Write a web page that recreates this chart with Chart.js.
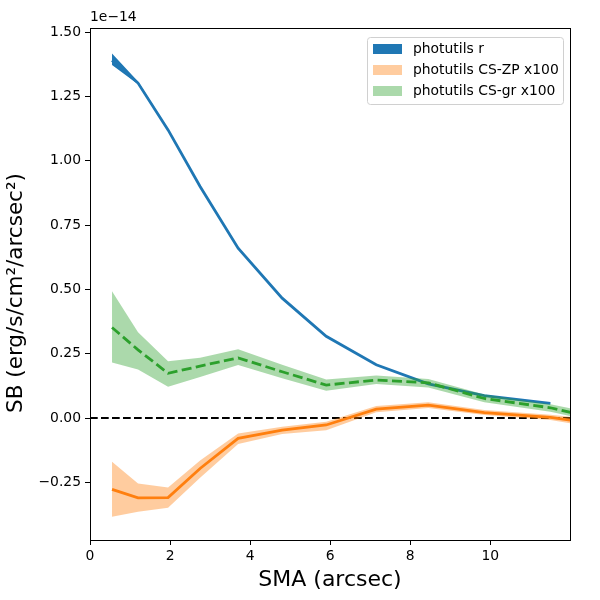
<!DOCTYPE html>
<html>
<head>
<meta charset="utf-8">
<script src="https://cdn.jsdelivr.net/npm/chart.js@4"></script>
<style>
  html, body { margin: 0; padding: 0; background: #fff; }
  #wrap { width: 600px; height: 600px; }
</style>
</head>
<body>
<div id="wrap"><canvas id="chart" width="600" height="600"></canvas></div>
<script>
// SMA positions (arcsec)
const sma = [0.55, 1.2, 1.95, 2.75, 3.7, 4.8, 5.9, 7.15, 8.45, 9.85, 11.5, 12.0];

// photutils r (units of 1e-14)
const rMid = [1.39, 1.302, 1.12, 0.90, 0.66, 0.466, 0.318, 0.207, 0.133, 0.087, 0.057];
const rLo  = [1.372, 1.297, 1.117, 0.898, 0.658, 0.464, 0.317, 0.206, 0.132, 0.086, 0.056];
const rHi  = [1.417, 1.308, 1.124, 0.903, 0.662, 0.468, 0.320, 0.208, 0.134, 0.088, 0.058];

// photutils CS-ZP x100
const zpMid = [-0.277, -0.310, -0.309, -0.196, -0.079, -0.047, -0.027, 0.035, 0.050, 0.021, 0.003, -0.008];
const zpLo  = [-0.384, -0.364, -0.349, -0.232, -0.101, -0.062, -0.047, 0.023, 0.039, 0.012, -0.008, -0.020];
const zpHi  = [-0.170, -0.254, -0.270, -0.165, -0.060, -0.034, -0.014, 0.047, 0.061, 0.031, 0.013, 0.005];

// photutils CS-gr x100
const grMid = [0.352, 0.265, 0.174, 0.202, 0.234, 0.180, 0.128, 0.148, 0.137, 0.076, 0.040, 0.022];
const grLo  = [0.216, 0.189, 0.122, 0.160, 0.206, 0.155, 0.106, 0.132, 0.119, 0.061, 0.024, 0.008];
const grHi  = [0.493, 0.333, 0.221, 0.234, 0.267, 0.207, 0.150, 0.165, 0.152, 0.092, 0.054, 0.038];

const xTicks = [0, 2, 4, 6, 8, 10];
const yTicks = [-0.25, 0, 0.25, 0.5, 0.75, 1.0, 1.25, 1.5];
const zeroLine = 0;

const legendItems = [
  { label: 'photutils r', color: '#1f77b4' },
  { label: 'photutils CS-ZP x100', color: 'rgba(255,127,14,0.4)' },
  { label: 'photutils CS-gr x100', color: 'rgba(44,160,44,0.4)' }
];

const FONT = "'DejaVu Sans', sans-serif";

function pts(ys) {
  return ys.map((y, i) => ({ x: sma[i], y: y }));
}

function band(lo, hi, fillColor, order) {
  return [
    { data: pts(lo), borderWidth: 0, pointRadius: 0, fill: false, order: order },
    { data: pts(hi), borderWidth: 0, pointRadius: 0, fill: '-1', backgroundColor: fillColor, order: order }
  ];
}

// spines, zero line, titles, offset text, legend
const extras = {
  id: 'extras',
  beforeDatasetsDraw(chart) {
    const { ctx, chartArea: a, scales } = chart;
    const y0 = scales.y.getPixelForValue(zeroLine);
    ctx.save();
    ctx.strokeStyle = '#000';
    ctx.lineWidth = 2;
    ctx.setLineDash([7.7, 3.3]);
    ctx.beginPath();
    ctx.moveTo(a.left, y0);
    ctx.lineTo(a.right, y0);
    ctx.stroke();
    ctx.restore();
  },
  afterDraw(chart) {
    const { ctx, chartArea: a } = chart;
    ctx.save();
    ctx.strokeStyle = '#000';
    ctx.lineWidth = 1;
    ctx.strokeRect(a.left + 0.5, a.top + 0.5, a.right - a.left, a.bottom - a.top);

    ctx.fillStyle = '#000';
    ctx.font = '13.9px ' + FONT;
    ctx.textAlign = 'left';
    ctx.textBaseline = 'alphabetic';
    ctx.fillText('1e\u221214', a.left, a.top - 7);

    ctx.font = '22px ' + FONT;
    ctx.textAlign = 'center';
    ctx.textBaseline = 'middle';
    ctx.fillText('SMA (arcsec)', (a.left + a.right) / 2, 580);
    ctx.save();
    ctx.font = '21.5px ' + FONT;
    ctx.translate(16, 293);
    ctx.rotate(-Math.PI / 2);
    ctx.fillText('SB (erg/s/cm\u00b2/arcsec\u00b2)', 0, 0);
    ctx.restore();

    // legend box
    const bx = 367, by = 37, bw = 196, bh = 67;
    ctx.fillStyle = 'rgba(255,255,255,0.8)';
    ctx.strokeStyle = '#d0d0d0';
    ctx.lineWidth = 1;
    ctx.beginPath();
    ctx.roundRect(bx + 0.5, by + 0.5, bw, bh, 3);
    ctx.fill();
    ctx.stroke();
    ctx.font = '13.9px ' + FONT;
    ctx.textAlign = 'left';
    ctx.textBaseline = 'middle';
    legendItems.forEach((it, i) => {
      const cy = 49 + i * 21;
      ctx.fillStyle = it.color;
      ctx.fillRect(373, cy - 5, 29, 10);
      ctx.fillStyle = '#000';
      ctx.fillText(it.label, 413, cy);
    });
    ctx.restore();
  }
};

const ctx = document.getElementById('chart');
new Chart(ctx, {
  type: 'line',
  data: {
    datasets: [
      ...band(rLo, rHi, '#1f77b4', 60),
      { data: pts(rMid), borderColor: '#1f77b4', borderWidth: 2.8, pointRadius: 0, fill: false, order: 50 },
      ...band(zpLo, zpHi, 'rgba(255,127,14,0.4)', 40),
      { data: pts(zpMid), borderColor: '#ff7f0e', borderWidth: 2.8, pointRadius: 0, fill: false, order: 30 },
      ...band(grLo, grHi, 'rgba(44,160,44,0.4)', 20),
      { data: pts(grMid), borderColor: '#2ca02c', borderWidth: 2.8, borderDash: [10, 4.4], pointRadius: 0, fill: false, order: 10 }
    ]
  },
  options: {
    responsive: false,
    animation: false,
    layout: { padding: { top: 28, right: 30, left: 0, bottom: 0 } },
    plugins: { legend: { display: false }, tooltip: { enabled: false } },
    scales: {
      x: {
        type: 'linear',
        min: 0,
        max: 11.99,
        afterBuildTicks: s => { s.ticks = xTicks.map(v => ({ value: v })); },
        afterFit: s => { s.height = 60; },
        grid: { display: true, drawOnChartArea: false, drawTicks: true, tickLength: 5, color: '#000' },
        border: { display: true, color: '#000', width: 1 },
        ticks: { color: '#000', padding: 3, font: { family: FONT, size: 13.9 }, maxRotation: 0,
                 callback: v => String(v) }
      },
      y: {
        type: 'linear',
        min: -0.474,
        max: 1.516,
        afterBuildTicks: s => { s.ticks = yTicks.map(v => ({ value: v })); },
        afterFit: s => { s.width = 90; },
        grid: { display: true, drawOnChartArea: false, drawTicks: true, tickLength: 5, color: '#000' },
        border: { display: true, color: '#000', width: 1 },
        ticks: { color: '#000', padding: 4, font: { family: FONT, size: 13.9 },
                 callback: v => v.toFixed(2).replace('-', '\u2212') }
      }
    }
  },
  plugins: [extras]
});
</script>
</body>
</html>
